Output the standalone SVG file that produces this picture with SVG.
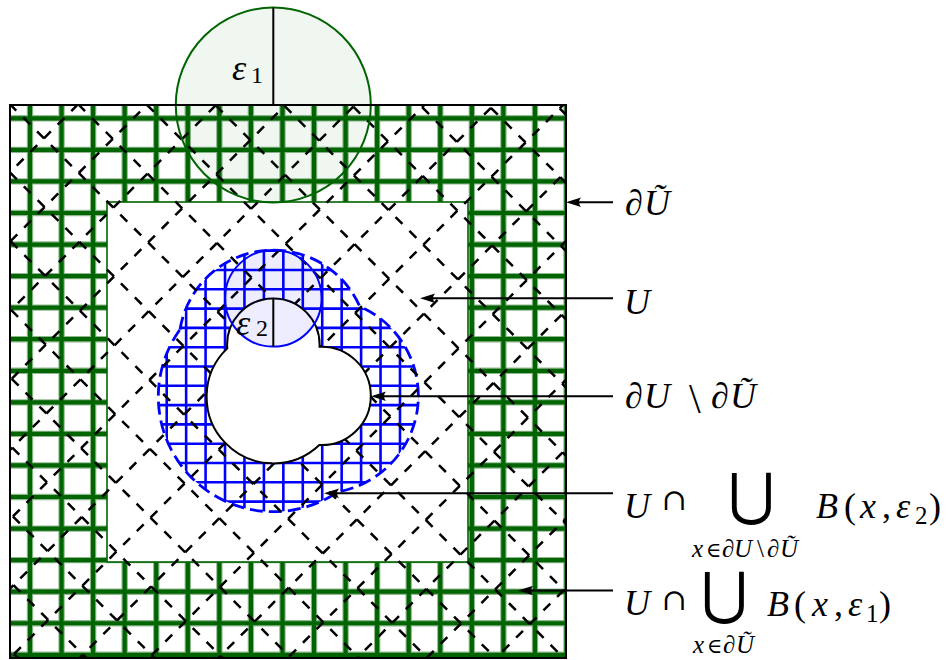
<svg xmlns="http://www.w3.org/2000/svg" width="948" height="660" viewBox="0 0 948 660">
<defs>
<style>
.gridhalo{fill:none;stroke:#8fb88f;stroke-width:6.4}
.gridcore{fill:none;stroke:#006400;stroke-width:4.2}
.dA{fill:none;stroke:#000;stroke-width:2.5;stroke-dasharray:9.814 9.814}
.dB{fill:none;stroke:#000;stroke-width:2.5;stroke-dasharray:9.645 9.645}
.bgrid{fill:none;stroke:#0000ff;stroke-width:2.6}
.bdash{fill:none;stroke:#0000ff;stroke-width:2.8;stroke-dasharray:13 6}
.arrow{fill:none;stroke:#000;stroke-width:2;marker-end:url(#ah)}
.rad{stroke:#000;stroke-width:2}
text{font-family:"Liberation Serif",serif;fill:#000}
.m{font-size:36px}
.i{font-style:italic}
.n{font-style:normal}
.s{font-size:25px}
.op{font-family:"DejaVu Serif",serif;font-style:normal}
.el{font-family:"DejaVu Serif",serif;font-style:normal;font-size:21px}
</style>
<path id="gg" d="M30,105V658M61.56,105V658M93.12,105V658M124.68,105V658M156.24,105V658M187.8,105V658M219.36,105V658M250.92,105V658M282.48,105V658M314.04,105V658M345.6,105V658M377.16,105V658M408.72,105V658M440.28,105V658M471.84,105V658M503.4,105V658M534.96,105V658M566.52,105V658M10,118.3H566M10,149.86H566M10,181.42H566M10,212.98H566M10,244.54H566M10,276.1H566M10,307.66H566M10,339.22H566M10,370.78H566M10,402.34H566M10,433.9H566M10,465.46H566M10,497.02H566M10,528.58H566M10,560.14H566M10,591.7H566M10,623.26H566M10,654.82H566"/>
<clipPath id="sq"><rect x="10" y="105" width="556" height="553"/></clipPath>
<clipPath id="nb"><path d="M180,329.5 A94.5,94.5 0 0 1 359.7,306.4 A97.5,97.5 0 0 1 338,491.8 A115,115 0 0 1 180,329.5Z"/></clipPath>
<marker id="ah" viewBox="0 0 16 10" markerWidth="16" markerHeight="10" refX="9" refY="5" orient="auto" markerUnits="userSpaceOnUse"><path d="M15,5 L0,0.3 Q4,5 0,9.7 Z" fill="#000"/></marker>
</defs>
<rect width="948" height="660" fill="#fff"/>

<g id="band-dUtilde">
<g clip-path="url(#sq)">
<use href="#gg" class="gridhalo"/>
<use href="#gg" class="gridcore"/>
</g>
</g>

<g id="region-U">
<rect x="107" y="202" width="361" height="360" fill="#fff" stroke="#006400" stroke-width="1.6"/>
</g>

<g id="nbhd-eps2">
<path clip-path="url(#nb)" class="bgrid" d="M147.26,230V520M166.7,230V520M186.14,230V520M205.58,230V520M225.02,230V520M244.46,230V520M263.9,230V520M283.34,230V520M302.78,230V520M322.22,230V520M341.66,230V520M361.1,230V520M380.54,230V520M399.98,230V520M419.42,230V520M140,231.4H430M140,250.7H430M140,270H430M140,289.3H430M140,308.6H430M140,327.9H430M140,347.2H430M140,366.5H430M140,385.8H430M140,405.1H430M140,424.4H430M140,443.7H430M140,463H430M140,482.3H430M140,501.6H430M140,520.9H430"/>
<path class="bdash" d="M180,329.5 A94.5,94.5 0 0 1 359.7,306.4 A97.5,97.5 0 0 1 338,491.8 A115,115 0 0 1 180,329.5Z"/>
</g>

<g id="diagonals" clip-path="url(#sq)">
<line class="dA" x1="212.7" y1="-238.6" x2="875.65" y2="424.35"/>
<line class="dA" x1="213.3" y1="-169.8" x2="841.55" y2="458.45"/>
<line class="dA" x1="144.5" y1="-170.4" x2="807.45" y2="492.55"/>
<line class="dA" x1="145.1" y1="-101.6" x2="773.35" y2="526.65"/>
<line class="dA" x1="76.3" y1="-102.2" x2="739.25" y2="560.75"/>
<line class="dA" x1="76.9" y1="-33.4" x2="705.15" y2="594.85"/>
<line class="dA" x1="8.1" y1="-34" x2="671.05" y2="628.95"/>
<line class="dA" x1="8.7" y1="34.8" x2="636.95" y2="663.05"/>
<line class="dA" x1="-60.1" y1="34.2" x2="602.85" y2="697.15"/>
<line class="dA" x1="-59.5" y1="103" x2="568.75" y2="731.25"/>
<line class="dA" x1="-128.3" y1="102.4" x2="534.65" y2="765.35"/>
<line class="dA" x1="-127.7" y1="171.2" x2="500.55" y2="799.45"/>
<line class="dA" x1="-196.5" y1="170.6" x2="466.45" y2="833.55"/>
<line class="dA" x1="-195.9" y1="239.4" x2="432.35" y2="867.65"/>
<line class="dA" x1="-264.7" y1="238.8" x2="398.25" y2="901.75"/>
<line class="dA" x1="-264.1" y1="307.6" x2="364.15" y2="935.85"/>
<line class="dA" x1="-332.9" y1="307" x2="330.05" y2="969.95"/>
<line class="dB" x1="-297" y1="479.3" x2="391.15" y2="-208.85"/>
<line class="dB" x1="-262.3" y1="514" x2="425.85" y2="-174.15"/>
<line class="dB" x1="-227.6" y1="548.7" x2="460.55" y2="-139.45"/>
<line class="dB" x1="-192.9" y1="583.4" x2="495.25" y2="-104.75"/>
<line class="dB" x1="-158.2" y1="618.1" x2="529.95" y2="-70.05"/>
<line class="dB" x1="-123.5" y1="652.8" x2="564.65" y2="-35.35"/>
<line class="dB" x1="-88.8" y1="687.5" x2="599.35" y2="-0.65"/>
<line class="dB" x1="-54.1" y1="722.2" x2="634.05" y2="34.05"/>
<line class="dB" x1="-19.4" y1="756.9" x2="668.75" y2="68.75"/>
<line class="dB" x1="15.3" y1="791.6" x2="703.45" y2="103.45"/>
<line class="dB" x1="50" y1="826.3" x2="738.15" y2="138.15"/>
<line class="dB" x1="84.7" y1="861" x2="772.85" y2="172.85"/>
<line class="dB" x1="119.4" y1="895.7" x2="807.55" y2="207.55"/>
<line class="dB" x1="154.1" y1="930.4" x2="842.25" y2="242.25"/>
<line class="dB" x1="188.8" y1="965.1" x2="876.95" y2="276.95"/>
<line class="dB" x1="223.5" y1="999.8" x2="911.65" y2="311.65"/>
</g>

<g id="hole-dU">
<path d="M227.3,348.4 A46.2,46.2 0 1 1 319.5,346.7 A49.2,49.2 0 1 1 319.3,445 A66.7,66.7 0 0 1 227.3,348.4Z" fill="#fff" stroke="#000" stroke-width="2"/>
</g>

<g id="ball-eps2">
<circle cx="273.3" cy="298.3" r="48.3" fill="#0000ff" fill-opacity="0.07" stroke="#0000ff" stroke-width="2"/>
<line class="rad" x1="273.3" y1="298.3" x2="273.3" y2="346.6"/>
<text class="m i" x="236" y="335">ε<tspan class="n" x="256" y="336" font-size="24">2</tspan></text>
</g>

<g id="ball-eps1">
<circle cx="273.3" cy="105" r="97.5" fill="#006400" fill-opacity="0.06" stroke="#006400" stroke-width="2"/>
<line class="rad" x1="273.3" y1="7.5" x2="273.3" y2="105"/>
<text class="m i" x="232" y="80">ε<tspan class="n" x="251" y="83" font-size="24">1</tspan></text>
</g>

<g id="outer-border">
<rect x="10" y="105" width="556" height="553" fill="none" stroke="#000" stroke-width="2"/>
</g>

<g id="connectors">
<path class="arrow" d="M613,202.3H572"/>
<path class="arrow" d="M613,298.3H426"/>
<path class="arrow" d="M613,396.3H377"/>
<path class="arrow" d="M613,493.3H330"/>
<path class="arrow" d="M613,590.5H524"/>
</g>

<g id="label-dUtilde">
<text class="m i" x="625 644" y="215">∂Ũ</text>
</g>

<g id="label-U">
<text class="m i" x="624" y="314">U</text>
</g>

<g id="label-dU-minus">
<text class="m i" y="408"><tspan x="625 644">∂U</tspan><tspan class="n" x="689" y="413" font-size="42">\</tspan><tspan x="711 730" y="408">∂Ũ</tspan></text>
</g>

<g id="label-nbhd-eps2">
<text class="m i" x="624" y="518">U</text>
<text class="op" x="661.7" y="510" font-size="30">∩</text>
<text class="op" x="751.7" y="514" font-size="57" text-anchor="middle">⋃</text>
<text class="m" y="518"><tspan class="i" x="816">B</tspan><tspan x="844">(</tspan><tspan class="i" x="860">x</tspan><tspan x="882">,</tspan><tspan class="i" x="896">ε</tspan><tspan class="s" x="915" y="524">2</tspan><tspan x="929" y="518">)</tspan></text>
<text class="s i" y="557"><tspan x="692">x</tspan><tspan class="el" x="706">∈</tspan><tspan x="722 734">∂U</tspan><tspan class="n" x="757">\</tspan><tspan x="767 780">∂Ũ</tspan></text>
</g>

<g id="label-nbhd-eps1">
<text class="m i" x="624" y="615">U</text>
<text class="op" x="661.7" y="610" font-size="30">∩</text>
<text class="op" x="724" y="613" font-size="57" text-anchor="middle">⋃</text>
<text class="m" y="616"><tspan class="i" x="767">B</tspan><tspan x="794">(</tspan><tspan class="i" x="812">x</tspan><tspan x="834">,</tspan><tspan class="i" x="848">ε</tspan><tspan class="s" x="866" y="622">1</tspan><tspan x="879" y="616">)</tspan></text>
<text class="s i" y="653"><tspan x="693">x</tspan><tspan class="el" x="707">∈</tspan><tspan x="723 736">∂Ũ</tspan></text>
</g>
</svg>
